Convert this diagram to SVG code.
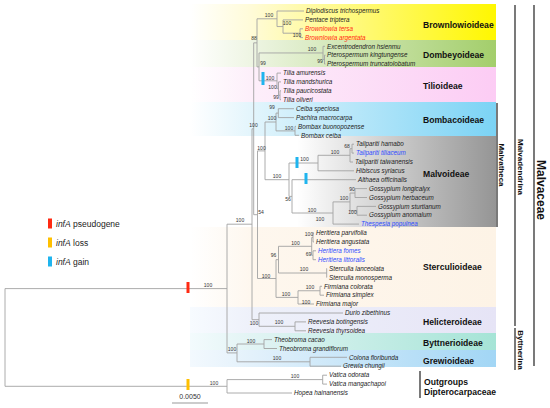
<svg xmlns="http://www.w3.org/2000/svg" width="550" height="408" viewBox="0 0 550 408">
<defs>
<linearGradient id="gBr" x1="0" x2="1" y1="0" y2="0"><stop offset="0" stop-color="#ffffff"/><stop offset="0.2" stop-color="#fffbd8"/><stop offset="1" stop-color="#fff700"/></linearGradient>
<linearGradient id="gDo" x1="0" x2="1" y1="0" y2="0"><stop offset="0" stop-color="#ffffff"/><stop offset="0.2" stop-color="#eef5e3"/><stop offset="1" stop-color="#a3ce6b"/></linearGradient>
<linearGradient id="gTi" x1="0" x2="1" y1="0" y2="0"><stop offset="0" stop-color="#ffffff"/><stop offset="0.2" stop-color="#fdeffa"/><stop offset="1" stop-color="#fcccf4"/></linearGradient>
<linearGradient id="gBo" x1="0" x2="1" y1="0" y2="0"><stop offset="0" stop-color="#ffffff"/><stop offset="0.2" stop-color="#e3f5fc"/><stop offset="1" stop-color="#7bd3f5"/></linearGradient>
<linearGradient id="gMa" x1="0" x2="1" y1="0" y2="0"><stop offset="0" stop-color="#ffffff"/><stop offset="0.35" stop-color="#ffffff"/><stop offset="1" stop-color="#959595"/></linearGradient>
<linearGradient id="gSt" x1="0" x2="1" y1="0" y2="0"><stop offset="0" stop-color="#ffffff"/><stop offset="0.2" stop-color="#fef7ee"/><stop offset="1" stop-color="#fdf3e6"/></linearGradient>
<linearGradient id="gHe" x1="0" x2="1" y1="0" y2="0"><stop offset="0" stop-color="#f7fbff"/><stop offset="0.2" stop-color="#eef1fa"/><stop offset="1" stop-color="#e6e4f6"/></linearGradient>
<linearGradient id="gBy" x1="0" x2="1" y1="0" y2="0"><stop offset="0" stop-color="#f3fbfd"/><stop offset="0.2" stop-color="#e2f4f4"/><stop offset="1" stop-color="#a5e4d6"/></linearGradient>
<linearGradient id="gGr" x1="0" x2="1" y1="0" y2="0"><stop offset="0" stop-color="#f3f9fe"/><stop offset="0.2" stop-color="#e3f1fb"/><stop offset="1" stop-color="#a2d6f5"/></linearGradient>
<style>
.br{stroke:#a3a3a3;stroke-width:0.9;fill:none}
.lf{font-family:"Liberation Sans",Arial,sans-serif;font-style:italic;font-size:6.3px;fill:#222}
.red{fill:#ff2a12}
.blu{fill:#2f4bff}
.bs{font-family:"Liberation Sans",Arial,sans-serif;font-size:5px;fill:#333;text-anchor:middle}
.sf{font-family:"Liberation Sans",Arial,sans-serif;font-weight:bold;font-size:8.6px;fill:#111}
.cl{font-family:"Liberation Sans",Arial,sans-serif;font-weight:bold;font-size:8px;fill:#111;text-anchor:middle}
.bar{stroke:#333;stroke-width:1.3;fill:none}
.lg{font-family:"Liberation Sans",Arial,sans-serif;font-size:8.5px;fill:#222}
</style>
</defs>
<rect width="550" height="408" fill="#ffffff"/>
<g id="bands">
<rect x="190" y="4" width="306" height="36" fill="url(#gBr)"/>
<rect x="190" y="40" width="306" height="27" fill="url(#gDo)"/>
<rect x="190" y="67" width="306" height="35" fill="url(#gTi)"/>
<rect x="190" y="102" width="306" height="34" fill="url(#gBo)"/>
<rect x="190" y="136" width="306" height="91" fill="url(#gMa)"/>
<rect x="190" y="227" width="306" height="80" fill="url(#gSt)"/>
<rect x="190" y="307" width="306" height="26" fill="url(#gHe)"/>
<rect x="190" y="333" width="306" height="17" fill="url(#gBy)"/>
<rect x="190" y="350" width="306" height="17" fill="url(#gGr)"/>
</g>
<g id="connectors" class="br">
<path d="M5 288.6V386.3M5 288.6H227M5 386.3H227"/>
<path d="M227 224.2V352.9M227 224.2H252M227 352.9H237"/>
<path d="M227 379.6V393M227 379.6H322.7M227 393H292"/>
<path d="M322.7 375.2V384.1M322.7 375.2H327M322.7 384.1H327"/>
<path d="M237 344V361.8M237 344H264M237 361.8H310"/>
<path d="M264 339.6V348.5M264 339.6H272M264 348.5H277"/>
<path d="M310 357.3V366.2M310 357.3H347M310 366.2H341"/>
<path d="M252 128.8V319.7M252 128.8H253.7M252 319.7H259"/>
<path d="M259 313V326.3M259 313H343M259 326.3H295"/>
<path d="M295 321.9V330.8M295 321.9H306M295 330.8H306"/>
<path d="M253.7 42.85V214.7M253.7 42.85H257M253.7 214.7H257.5"/>
<path d="M257 18.8V66.9M257 18.8H277M257 66.9H259"/>
<path d="M277 11V26.55M277 11H304M277 26.55H283"/>
<path d="M283 19.9V33.2M283 19.9H303M283 33.2H300"/>
<path d="M300 28.8V37.6M300 28.8H303M300 37.6H303"/>
<path d="M259 52.95V80.8M259 52.95H323M259 80.8H277"/>
<path d="M323 46.3V59.6M323 46.3H325M323 59.6H324.5"/>
<path d="M324.5 55.2V64M324.5 55.2H325.5M324.5 64H325.5"/>
<path d="M277 73.1V88.6M277 73.1H281M277 88.6H278.5"/>
<path d="M278.5 81.9V95.25M278.5 81.9H281M278.5 95.25H280"/>
<path d="M280 90.8V99.7H281M280 90.8H281"/>
<path d="M257.5 150.9V278.5M257.5 150.9H265M257.5 278.5H276"/>
<path d="M265 122V179.7M265 122H276M265 179.7H289"/>
<path d="M276 113.1V130.9M276 113.1H278.3M276 130.9H295"/>
<path d="M278.3 108.7V117.6M278.3 108.7H294M278.3 117.6H294"/>
<path d="M295 126.4V135.3M295 126.4H296M295 135.3H299"/>
<path d="M289 163V196.4M289 163H318M289 196.4H292"/>
<path d="M318 155.3V170.8M318 155.3H350M318 170.8H354"/>
<path d="M350 148.7V162M350 148.7H352M350 162H353"/>
<path d="M352 144.2V153.1M352 144.2H354M352 153.1H354"/>
<path d="M292 179.7V213M292 179.7H356M292 213H333"/>
<path d="M333 201.9V224.1M333 201.9H350M333 224.1H359"/>
<path d="M350 193.05V210.8M350 193.05H355M350 210.8H357"/>
<path d="M355 188.6V197.5M355 188.6H367M355 197.5H367"/>
<path d="M357 206.4V215.2M357 206.4H376M357 215.2H367"/>
<path d="M276 259.65V297.4M276 259.65H278.5M276 297.4H298"/>
<path d="M278.5 246.3V273M278.5 246.3H311.7M278.5 273H326.7"/>
<path d="M311.7 237.45V255.25M311.7 237.45H313M311.7 255.25H313"/>
<path d="M313 233V241.9M313 233H314M313 241.9H314"/>
<path d="M313 250.8V259.7M313 250.8H316M313 259.7H316"/>
<path d="M326.7 268.5V277.4M326.7 268.5H327M326.7 277.4H327"/>
<path d="M298 290.75V304M298 290.75H320M298 304H314"/>
<path d="M320 286.3V295.2M320 286.3H322M320 295.2H324"/>
</g>
<g id="events">
<rect x="186.5" y="282" width="3" height="11" fill="#ff2a12"/>
<rect x="186.5" y="379" width="3" height="11" fill="#ffc000"/>
<rect x="261.5" y="72" width="3" height="13" fill="#1fb4ee"/>
<rect x="295.5" y="157" width="3" height="11" fill="#1fb4ee"/>
<rect x="304.5" y="173" width="3" height="11" fill="#1fb4ee"/>
</g>
<g id="support" class="bs">
<text x="208" y="287">100</text><text x="214" y="384.5">100</text>
<text x="240" y="222">100</text><text x="232" y="350.5">100</text>
<text x="253.5" y="127">100</text><text x="254" y="40">88</text>
<text x="269" y="17">100</text><text x="287" y="24.5">100</text><text x="297" y="36.5">100</text>
<text x="312" y="51">100</text><text x="320" y="63">99</text><text x="263" y="65">99</text>
<text x="270" y="79.5">100</text><text x="272.5" y="88.5">100</text><text x="276" y="98.5">99</text>
<text x="272" y="108.5">99</text><text x="272" y="120">100</text><text x="289" y="130">100</text>
<text x="261.5" y="150">100</text><text x="335" y="154">100</text><text x="347" y="147.5">68</text>
<text x="304.5" y="161">100</text><text x="277" y="177.5">100</text><text x="288" y="201">56</text>
<text x="352" y="190.5">90</text><text x="344" y="199.5">100</text><text x="352.5" y="213.5">100</text>
<text x="312" y="211.5">100</text><text x="320" y="220.5">100</text><text x="261" y="213.5">54</text>
<text x="266" y="277.5">100</text><text x="273.5" y="257">96</text><text x="295.5" y="244.5">100</text>
<text x="309" y="235.5">100</text><text x="308.5" y="255.5">69</text><text x="304" y="271">100</text>
<text x="286" y="295.5">100</text><text x="310" y="288.5">100</text><text x="306" y="303.5">100</text>
<text x="254" y="324.5">100</text><text x="279" y="324">100</text><text x="251" y="342.5">100</text>
<text x="277" y="359.5">100</text><text x="295" y="377.5">100</text>
</g>
<g id="leaves" class="lf">
<text id="t1" x="306" y="13.2">Diplodiscus trichospermus</text>
<text id="t2" x="305" y="22.1">Pentace triptera</text>
<text id="t3" x="305" y="31" class="red">Brownlowia tersa</text>
<text id="t4" x="305" y="39.8" class="red">Brownlowia argentata</text>
<text id="t5" x="327" y="48.5">Excentrodendron hsienmu</text>
<text id="t6" x="327" y="57.4">Pterospermum kingtungense</text>
<text id="t7" x="327" y="66.2">Pterospermum truncatolobatum</text>
<text id="t8" x="283" y="75.3">Tilia amurensis</text>
<text id="t9" x="283" y="84.1">Tilia mandshurica</text>
<text id="t10" x="283" y="93">Tilia paucicostata</text>
<text id="t11" x="283" y="101.9">Tilia oliveri</text>
<text id="t12" x="296" y="110.9">Ceiba speciosa</text>
<text id="t13" x="296" y="119.8">Pachira macrocarpa</text>
<text id="t14" x="298" y="128.6">Bombax buonopozense</text>
<text id="t15" x="301" y="137.5">Bombax ceiba</text>
<text id="t16" x="356" y="146.4">Talipariti hamabo</text>
<text id="t17" x="356" y="155.3" class="blu">Talipariti tiliaceum</text>
<text id="t18" x="355" y="164.2">Talipariti taiwanensis</text>
<text id="t19" x="356" y="173">Hibiscus syriacus</text>
<text id="t20" x="358" y="181.9">Althaea officinalis</text>
<text id="t21" x="369" y="190.8">Gossypium longicalyx</text>
<text id="t22" x="369" y="199.7">Gossypium herbaceum</text>
<text id="t23" x="378" y="208.6">Gossypium sturtianum</text>
<text id="t24" x="369" y="217.4">Gossypium anomalum</text>
<text id="t25" x="361" y="226.3" class="blu">Thespesia populnea</text>
<text id="t26" x="316" y="235.2">Heritiera parvifolia</text>
<text id="t27" x="316" y="244.1">Heritiera angustata</text>
<text id="t28" x="318" y="253" class="blu">Heritiera fomes</text>
<text id="t29" x="318" y="261.9" class="blu">Heritiera littoralis</text>
<text id="t30" x="329" y="270.7">Sterculia lanceolata</text>
<text id="t31" x="329" y="279.6">Sterculia monosperma</text>
<text id="t32" x="324" y="288.5">Firmiana colorata</text>
<text id="t33" x="326" y="297.4">Firmiana simplex</text>
<text id="t34" x="316" y="306.2">Firmiana major</text>
<text id="t35" x="345" y="315.2">Durio zibethinus</text>
<text id="t36" x="308" y="324.1">Reevesia botingensis</text>
<text id="t37" x="308" y="333">Reevesia thyrsoidea</text>
<text id="t38" x="274" y="341.8">Theobroma cacao</text>
<text id="t39" x="279" y="350.7">Theobroma grandiflorum</text>
<text id="t40" x="349" y="359.5">Colona floribunda</text>
<text id="t41" x="343" y="368.4">Grewia chungii</text>
<text id="t42" x="329" y="377.4">Vatica odorata</text>
<text id="t43" x="329" y="386.3">Vatica mangachapoi</text>
<text id="t44" x="294" y="395.2">Hopea hainanensis</text>
</g>
<g id="subfamilies" class="sf">
<text x="423" y="28">Brownlowioideae</text>
<text x="423" y="58">Dombeyoideae</text>
<text x="423" y="89">Tilioideae</text>
<text x="423" y="123">Bombacoideae</text>
<text x="423" y="177">Malvoideae</text>
<text x="423" y="270">Sterculioideae</text>
<text x="423" y="325">Helicteroideae</text>
<text x="423" y="346">Byttnerioideae</text>
<text x="423" y="364">Grewioideae</text>
<text x="424" y="385">Outgroups</text>
<text x="424" y="395">Dipterocarpaceae</text>
</g>
<g id="clades">
<path class="bar" d="M497 103V227M515 5V326M515 328V370M534 5V366M420 371V398"/>
<text class="cl" transform="translate(502,165) rotate(90)" dy="0.35em">Malvatheca</text>
<text class="cl" transform="translate(521,167) rotate(90)" dy="0.35em">Malvadendrina</text>
<text class="cl" transform="translate(521,350) rotate(90)" dy="0.35em">Byttnerina</text>
<text class="cl" transform="translate(541,190) rotate(90)" dy="0.35em" style="font-size:12px">Malvaceae</text>
</g>
<g id="legend" class="lg">
<rect x="48" y="218.5" width="4" height="10" fill="#ff2a12"/>
<text x="56" y="226.5"><tspan font-style="italic">infA</tspan> pseudogene</text>
<rect x="48" y="237.5" width="4" height="10" fill="#ffc000"/>
<text x="56" y="245.5"><tspan font-style="italic">infA</tspan> loss</text>
<rect x="48" y="256.5" width="4" height="10" fill="#1fb4ee"/>
<text x="56" y="264.5"><tspan font-style="italic">infA</tspan> gain</text>
</g>
<g id="scale">
<text x="190" y="399" style="font-family:'Liberation Sans',Arial,sans-serif;font-size:7px;fill:#333;text-anchor:middle">0.0050</text>
<path d="M172 403H208" stroke="#999" stroke-width="1"/>
</g>
</svg>
